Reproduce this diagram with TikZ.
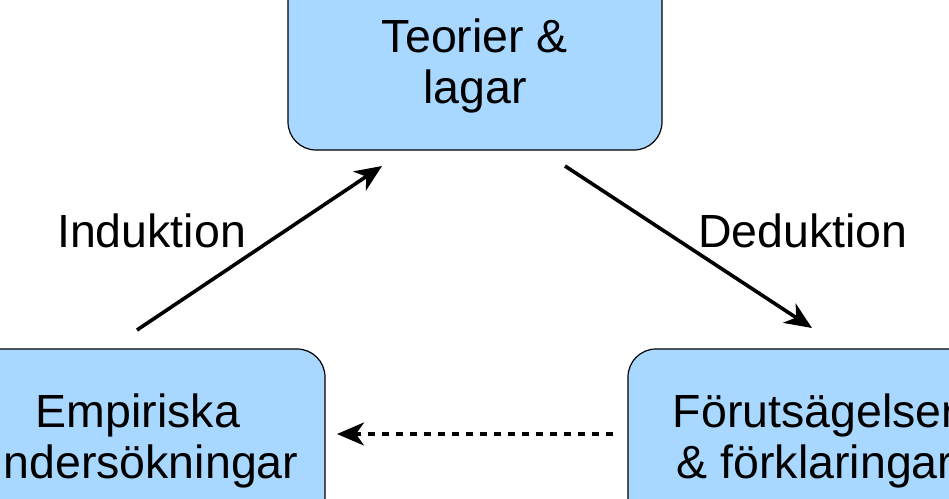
\documentclass[tikz,border=0pt]{standalone}
\usepackage{fontspec}
\setmainfont{Liberation Sans}
\usetikzlibrary{arrows.meta}
\definecolor{boxblue}{RGB}{168,216,255}
\begin{document}
\begin{tikzpicture}[x=1pt,y=-1pt,
  box/.style={draw=black, line width=1.2pt, fill=boxblue, rounded corners=28pt,
    minimum width=374pt, minimum height=176pt, inner sep=0pt, align=center,
    font=\fontsize{46.5}{51}\selectfont},
  lbl/.style={anchor=base west, inner sep=0pt, font=\fontsize{46.5}{51}\selectfont},
  arr/.style={line width=3.6pt, -{Stealth[length=27pt,width=23pt,inset=8pt]}},
  darr/.style={arr, dash pattern=on 7pt off 7pt}]
\clip (0,0) rectangle (949,498);
\node[box] (teo) at (475,62) {\rule{0pt}{41pt}Teorier \&\\lagar\rule[-10pt]{0pt}{10pt}};
\node[box] (emp) at (138,437) {\rule{0pt}{41pt}Empiriska\\undersökningar\rule[-10pt]{0pt}{10pt}};
\node[box] (for) at (815,437) {\rule{0pt}{41pt}Förutsägelser\\\& förklaringar\rule[-10pt]{0pt}{10pt}};
\node[lbl] (ind) at (57,247) {Induktion};
\node[lbl] (ded) at (698,247) {Deduktion};
\coordinate (i1) at (137,330);
\coordinate (i2) at (382,166);
\coordinate (d1) at (565,166);
\coordinate (d2) at (812,328);
\coordinate (p1) at (613,434);
\coordinate (p2) at (337,434);
\draw[arr] (i1) -- (i2);
\draw[arr] (d1) -- (d2);
\draw[darr] (p1) -- (p2);
\end{tikzpicture}
\end{document}
